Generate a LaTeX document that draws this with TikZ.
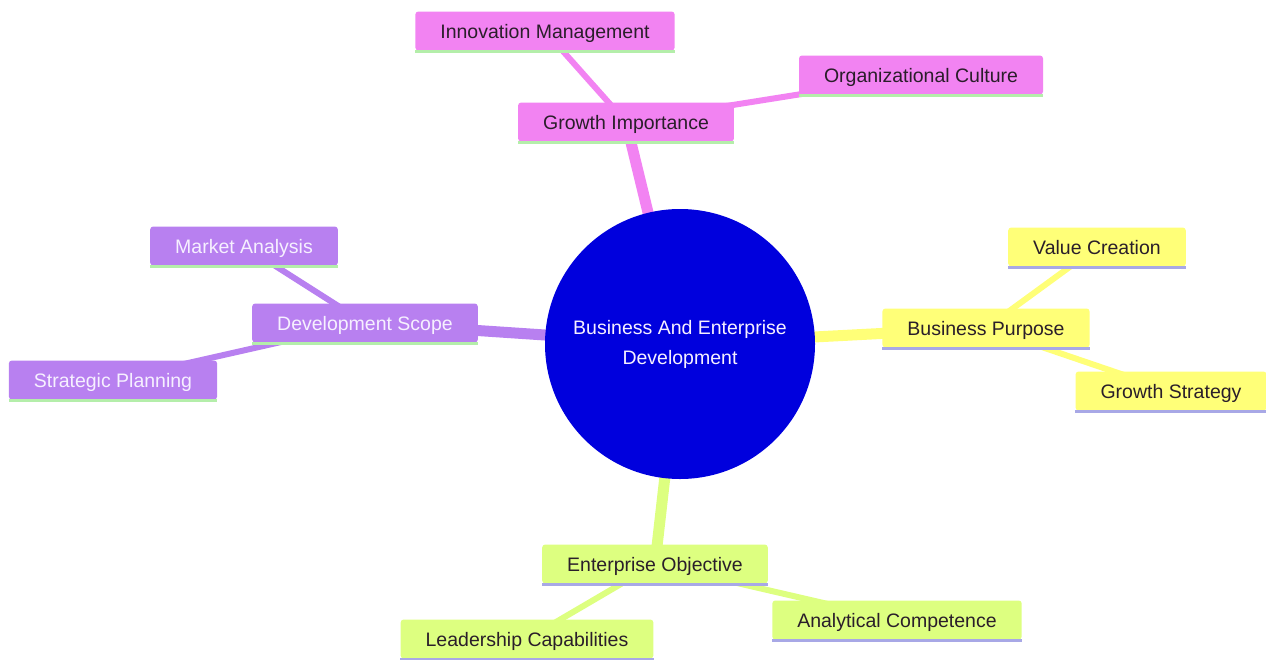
\documentclass[tikz,border=0pt]{standalone}
\usepackage{fontspec}
\setmainfont{Liberation Sans}
\usetikzlibrary{backgrounds}
\definecolor{pinkc}{HTML}{F283F2}
\definecolor{purpc}{HTML}{B880F0}
\definecolor{yelc}{HTML}{FFFF78}
\definecolor{limec}{HTML}{DDFF80}
\definecolor{bluec}{HTML}{0000DD}
\definecolor{ulgreen}{HTML}{B4EEAA}
\definecolor{ullav}{HTML}{A8A8E6}
\definecolor{darktxt}{HTML}{2A1E2A}
\definecolor{lighttxt}{HTML}{F6F0FF}
\tikzset{
  box/.style={rectangle, rounded corners=3pt, inner xsep=25pt, inner ysep=0pt,
    minimum height=39pt, text height=16pt, text depth=2pt,
    font=\fontsize{19.5}{23}\selectfont},
  pinkbox/.style={box, fill=pinkc, text=darktxt},
  purpbox/.style={box, fill=purpc, text=lighttxt},
  yelbox/.style={box, fill=yelc, text=darktxt},
  limebox/.style={box, fill=limec, text=darktxt},
  mainedge/.style={line width=11pt},
  subedge/.style={line width=6pt},
  ul/.style={line width=3pt}
}
\begin{document}
\begin{tikzpicture}[x=1pt,y=-1pt]
\useasboundingbox (0,0) rectangle (1266,659);
% central circle
\node[circle, fill=bluec, minimum size=270pt, inner sep=0pt, text=lighttxt,
      align=center, font=\fontsize{19.5}{30}\selectfont] (root) at (680,344)
      {Business And Enterprise\\Development};
% pink branch
\node[pinkbox] (gi) at (626,122) {Growth Importance};
\node[pinkbox] (im) at (545,31) {Innovation Management};
\node[pinkbox] (oc) at (921,75) {Organizational Culture};
% purple branch
\node[purpbox] (ds) at (365,323) {Development Scope};
\node[purpbox] (ma) at (244,246) {Market Analysis};
\node[purpbox] (sp) at (113,380) {Strategic Planning};
% yellow branch
\node[yelbox] (bp) at (986,328) {Business Purpose};
\node[yelbox] (vc) at (1097,247) {Value Creation};
\node[yelbox] (gs) at (1171,391) {Growth Strategy};
% lime branch
\node[limebox] (eo) at (655,564) {Enterprise Objective};
\node[limebox] (lc) at (527,639) {Leadership Capabilities};
\node[limebox] (ac) at (897,620) {Analytical Competence};
% underlines
\foreach \n in {gi,im,oc,ds,ma,sp}
  \draw[ul, ulgreen] ([yshift=-1pt]\n.south west) -- ([yshift=-1pt]\n.south east);
\foreach \n in {bp,vc,gs,eo,lc,ac}
  \draw[ul, ullav] ([yshift=-1pt]\n.south west) -- ([yshift=-1pt]\n.south east);
% edges
\begin{scope}[on background layer]
\draw[mainedge, pinkc] (root.center) -- (gi.center);
\draw[subedge, pinkc] (gi.center) -- (im.center);
\draw[subedge, pinkc] (gi.center) -- (oc.center);
\draw[mainedge, purpc] (root.center) -- (ds.center);
\draw[subedge, purpc] (ds.center) -- (ma.center);
\draw[subedge, purpc] (ds.center) -- (sp.center);
\draw[mainedge, yelc] (root.center) -- (bp.center);
\draw[subedge, yelc] (bp.center) -- (vc.center);
\draw[subedge, yelc] (bp.center) -- (gs.center);
\draw[mainedge, limec] (root.center) -- (eo.center);
\draw[subedge, limec] (eo.center) -- (lc.center);
\draw[subedge, limec] (eo.center) -- (ac.center);
\end{scope}
\end{tikzpicture}
\end{document}
